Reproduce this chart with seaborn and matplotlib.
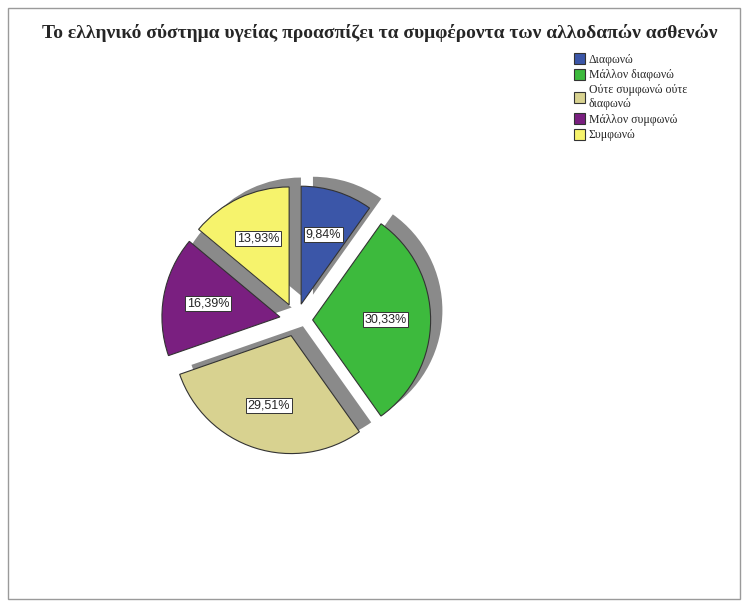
import seaborn as sns
import matplotlib.pyplot as plt
from matplotlib.patches import Rectangle

# Δεδομένα
labels = ['Διαφωνώ', 'Μάλλον διαφωνώ', 'Ούτε συμφωνώ ούτε\nδιαφωνώ', 'Μάλλον συμφωνώ', 'Συμφωνώ']
values = [9.84, 30.33, 29.51, 16.39, 13.93]
colors = sns.color_palette(['#3b56a8', '#3dba3d', '#d8d290', '#7a1f80', '#f6f36c'])
title = 'Το ελληνικό σύστημα υγείας προασπίζει τα συμφέροντα των αλλοδαπών ασθενών'

sns.set_theme(style='white')
plt.rcParams['font.family'] = ['Liberation Serif', 'DejaVu Serif']

fig = plt.figure(figsize=(7.45, 6.03), dpi=100)
fig.patches.append(Rectangle((0.011, 0.006), 0.982, 0.98, transform=fig.transFigure,
                             fill=False, edgecolor='#9a9a9a', linewidth=1))

ax = fig.add_axes([0.16, 0.176, 0.475, 0.587])
explode = [0.14] * len(values)

# σκιά
ax.pie(values, startangle=90, counterclock=False, explode=explode,
       colors=['#8a8a8a'] * len(values), center=(0.1, 0.08),
       wedgeprops=dict(linewidth=0))

wedges, texts = ax.pie(values, startangle=90, counterclock=False, explode=explode,
                       colors=colors, labels=[f'{v:.2f}%'.replace('.', ',') for v in values],
                       labeldistance=0.62,
                       wedgeprops=dict(edgecolor='#333333', linewidth=0.8))
for t in texts:
    t.set_ha('center')
    t.set_fontsize(9)
    t.set_family(['Liberation Sans', 'DejaVu Sans'])
    t.set_bbox(dict(boxstyle='square,pad=0.12', facecolor='white', edgecolor='#333333', linewidth=0.7))

ax.set_xlim(-1.5, 1.5)
ax.set_ylim(-1.5, 1.5)
ax.set_aspect('equal')
ax.axis('off')

fig.text(0.51, 0.945, title, ha='center', va='center', fontsize=14, fontweight='bold')

fig.legend(wedges, labels, loc='upper left', bbox_to_anchor=(0.762, 0.922),
           frameon=False, fontsize=8.5, handlelength=1.0, handleheight=1.1,
           handletextpad=0.3, labelspacing=0.25, borderpad=0)

fig.savefig('out.png', dpi=100)
